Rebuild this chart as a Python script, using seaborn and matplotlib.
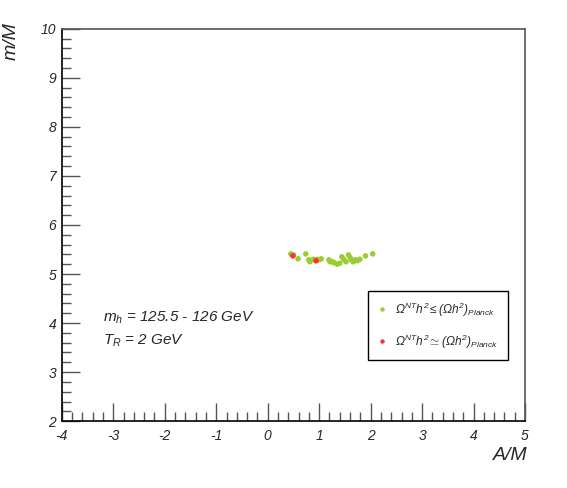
import numpy as np
import pandas as pd
import seaborn as sns
import matplotlib.pyplot as plt
from matplotlib.ticker import MultipleLocator

# scan points
green_A = [0.45, 0.50, 0.59, 0.74, 0.80, 0.82, 0.89, 0.96, 1.00, 1.04, 1.19, 1.21, 1.26,
           1.29, 1.35, 1.40, 1.44, 1.48, 1.52, 1.57, 1.60, 1.62, 1.66, 1.70, 1.74, 1.79,
           1.90, 2.04]
green_m = [5.41, 5.39, 5.31, 5.41, 5.29, 5.25, 5.30, 5.30, 5.29, 5.31, 5.29, 5.25, 5.25,
           5.23, 5.20, 5.22, 5.35, 5.30, 5.25, 5.39, 5.34, 5.29, 5.25, 5.29, 5.27, 5.30,
           5.37, 5.41]
red_A = [0.49, 0.94]
red_m = [5.37, 5.27]

lab_le = r"$\Omega^{NT}h^2 \leq (\Omega h^2)_{Planck}$"
lab_eq = r"$\Omega^{NT}h^2 \simeq (\Omega h^2)_{Planck}$"

df = pd.DataFrame({
    "A": green_A + red_A,
    "m": green_m + red_m,
    "set": [lab_le] * len(green_A) + [lab_eq] * len(red_A),
})

sns.set_style("white")
plt.rcParams["font.family"] = ["Liberation Sans", "DejaVu Sans"]
plt.rcParams["mathtext.fontset"] = "custom"
plt.rcParams["mathtext.rm"] = "Liberation Sans:italic"
plt.rcParams["mathtext.it"] = "Liberation Sans:italic"
plt.rcParams["axes.unicode_minus"] = False

fig = plt.figure(figsize=(5.67, 4.88), dpi=100)
ax = fig.add_axes([0.109, 0.137, 0.817, 0.804])

sns.scatterplot(data=df, x="A", y="m", hue="set",
                palette={lab_le: "#9acd32", lab_eq: "#ff3030"},
                s=16, linewidth=0, ax=ax)

ax.set_xlim(-4, 5)
ax.set_ylim(2, 10)
ax.xaxis.set_major_locator(MultipleLocator(1))
ax.xaxis.set_minor_locator(MultipleLocator(0.2))
ax.yaxis.set_major_locator(MultipleLocator(1))
ax.yaxis.set_minor_locator(MultipleLocator(0.2))
ax.tick_params(which="major", direction="in", length=13, width=1, color="#555555",
               labelsize=10, top=False, right=False, bottom=True, left=True)
ax.tick_params(which="minor", direction="in", length=6.5, width=1, color="#555555",
               top=False, right=False, bottom=True, left=True)
ax.tick_params(axis="x", which="major", pad=6)
ax.tick_params(axis="y", which="major", pad=4)
for lbl in ax.get_xticklabels() + ax.get_yticklabels():
    lbl.set_fontstyle("italic")
for side in ["left", "bottom"]:
    ax.spines[side].set_color("black")
for side in ["top", "right"]:
    ax.spines[side].set_color("#555555")
for sp in ax.spines.values():
    sp.set_linewidth(1.2)

ax.set_xlabel("A/M", fontsize=14, style="italic", loc="right")
ax.set_ylabel("m/M", fontsize=14, style="italic", loc="top")
ax.yaxis.set_label_coords(-0.09, 1.018)
ax.xaxis.set_label_coords(1.005, -0.065)

ax.text(-3.2, 4.10, r"$m_h$ = 125.5 - 126 GeV", fontsize=11, style="italic", va="center")
ax.text(-3.2, 3.63, r"$T_R$ = 2 GeV", fontsize=11, style="italic", va="center")

leg = ax.legend(loc="upper left", bbox_to_anchor=(0.661, 0.332),
                frameon=True, fancybox=False, edgecolor="black",
                framealpha=1, fontsize=8.6, labelspacing=1.15, handlelength=0.8,
                handletextpad=0.7, markerscale=0.8, borderpad=0.8, borderaxespad=0)
leg.get_frame().set_linewidth(1.0)

fig.savefig("out.png", dpi=100)
